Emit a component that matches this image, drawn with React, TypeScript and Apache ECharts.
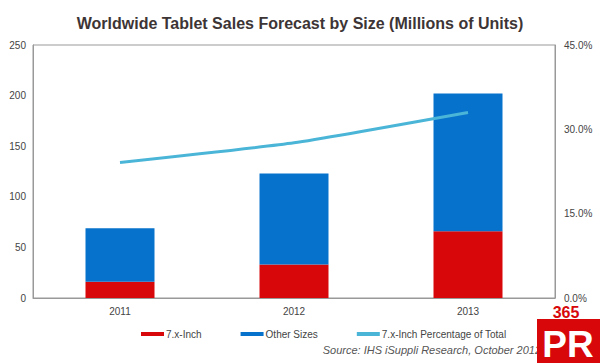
import React, { useEffect, useRef } from "react";
import * as echarts from "echarts";

const categories = ["2011", "2012", "2013"];
const sevenInch = [16, 33, 66];
const otherSizes = [53, 90, 136];
const sevenInchPct = [24.1, 27.6, 33.0];
const titleText = "Worldwide Tablet Sales Forecast by Size (Millions of Units)";
const sourceText = "Source: IHS iSuppli Research, October 2012";

export default function App() {
  const ref = useRef<HTMLDivElement>(null);
  useEffect(() => {
    if (!ref.current) return;
    const chart = echarts.init(ref.current, undefined, { renderer: "svg" });
    const font = "Arial, 'Liberation Sans', sans-serif";
    chart.setOption({
      animation: false,
      backgroundColor: "#ffffff",
      textStyle: { fontFamily: font },
      title: {
        text: titleText,
        left: "center",
        top: 10,
        textStyle: { fontSize: 16, fontWeight: "bold", color: "#3d3535", fontFamily: font },
      },
      grid: {
        left: 33,
        right: 45,
        top: 45,
        bottom: 65,
        show: true,
        borderColor: "#999999",
        borderWidth: 1,
      },
      legend: {
        left: 136,
        top: 324,
        itemWidth: 23,
        itemHeight: 4,
        itemGap: 39,
        icon: "rect",
        textStyle: { fontSize: 10, color: "#444", fontFamily: font, padding: [0, 0, 0, -3] },
        data: ["7.x-Inch", "Other Sizes", "7.x-Inch Percentage of Total"],
      },
      xAxis: {
        type: "category",
        data: categories,
        axisLine: { lineStyle: { color: "#999" } },
        axisTick: { show: false },
        axisLabel: { fontSize: 10, color: "#444", margin: 8 },
      },
      yAxis: [
        {
          type: "value",
          min: 0,
          max: 250,
          interval: 50,
          splitLine: { show: false },
          axisLine: { show: true, lineStyle: { color: "#999" } },
          axisTick: { show: false },
          axisLabel: { fontSize: 10, color: "#444", margin: 7 },
        },
        {
          type: "value",
          min: 0,
          max: 45,
          interval: 15,
          splitLine: { show: false },
          axisLine: { show: true, lineStyle: { color: "#999" } },
          axisTick: { show: false },
          axisLabel: {
            fontSize: 10,
            color: "#444",
            margin: 9,
            formatter: (v: number) => v.toFixed(1) + "%",
          },
        },
      ],
      series: [
        {
          name: "7.x-Inch",
          type: "bar",
          stack: "s",
          data: sevenInch,
          barWidth: 69,
          itemStyle: { color: "#D7070A" },
        },
        {
          name: "Other Sizes",
          type: "bar",
          stack: "s",
          data: otherSizes,
          barWidth: 69,
          itemStyle: { color: "#0672CB" },
        },
        {
          name: "7.x-Inch Percentage of Total",
          type: "line",
          yAxisIndex: 1,
          data: sevenInchPct,
          smooth: 0.15,
          symbol: "none",
          lineStyle: { color: "#4BB5D8", width: 3 },
          itemStyle: { color: "#4BB5D8" },
        },
      ],
      graphic: [
        {
          type: "text",
          right: 59,
          top: 344,
          style: {
            text: sourceText,
            fontSize: 11,
            fontStyle: "italic",
            fill: "#555",
            fontFamily: font,
          },
        },
        {
          type: "rect",
          shape: { x: 537, y: 319, width: 63, height: 44 },
          style: { fill: "#D7070A" },
        },
        {
          type: "text",
          x: 566,
          y: 312,
          style: {
            text: "365",
            fontSize: 16,
            fontWeight: "bold",
            fill: "#D7070A",
            align: "center",
            verticalAlign: "middle",
            fontFamily: font,
          },
        },
        {
          type: "text",
          x: 568,
          y: 344,
          style: {
            text: "PR",
            fontSize: 37,
            fontWeight: "bold",
            fill: "#ffffff",
            align: "center",
            verticalAlign: "middle",
            fontFamily: font,
          },
        },
      ],
    });
    return () => chart.dispose();
  }, []);
  return <div ref={ref} style={{ width: 600, height: 363, position: "absolute", left: 0, top: 0 }} />;
}
